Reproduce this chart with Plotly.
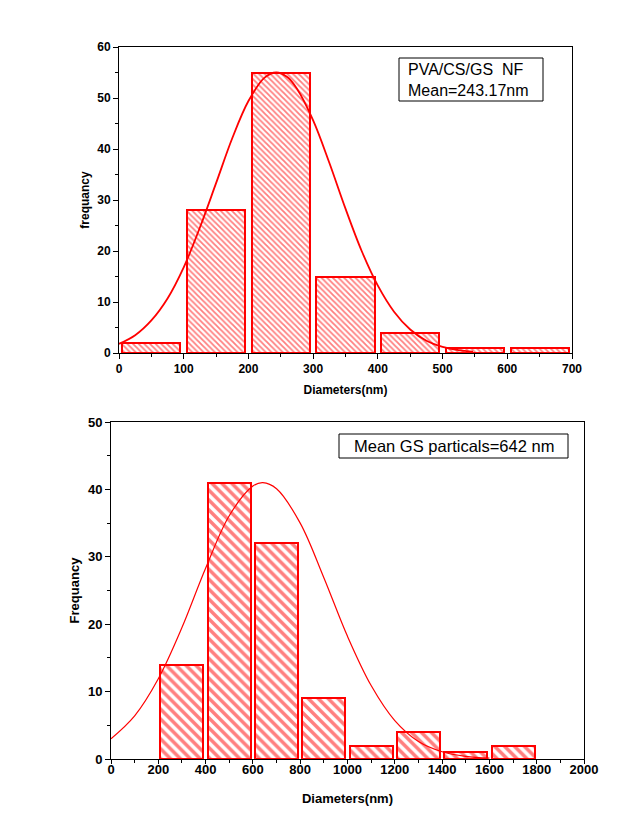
import plotly.graph_objects as go

# ---- data: top histogram (PVA/CS/GS NF) ----
top_bin_centers = [50, 150, 250, 350, 450, 550, 650]
top_counts = [2, 28, 55, 15, 4, 1, 1]
top_curve_x = [0, 25, 50, 75, 100, 125, 150, 175, 200, 225, 243, 260, 275, 300,
               325, 350, 375, 400, 425, 450, 475, 500, 525, 547]
top_curve_y = [1.8, 3.5, 6.4, 10.7, 16.8, 24.6, 33.3, 42.1, 49.4, 54.0, 55.0, 54.1,
               51.8, 45.6, 37.3, 28.3, 20.0, 13.2, 8.1, 4.6, 2.4, 1.2, 0.55, 0.25]

# ---- data: bottom histogram (GS particles) ----
bot_bin_centers = [300, 500, 700, 900, 1100, 1300, 1500, 1700]
bot_counts = [14, 41, 32, 9, 2, 4, 1, 2]
bot_curve_x = [0, 100, 200, 300, 400, 500, 600, 642, 700, 800, 900, 1000, 1100,
               1200, 1300, 1400, 1500, 1600]
bot_curve_y = [3.0, 6.4, 11.9, 19.5, 28.3, 36.1, 40.5, 41.0, 40.1, 35.0, 26.9,
               18.2, 10.9, 5.7, 2.6, 1.08, 0.39, 0.12]

top_xticks = [0, 100, 200, 300, 400, 500, 600, 700]
top_yticks = [0, 10, 20, 30, 40, 50, 60]
bot_xticks = [0, 200, 400, 600, 800, 1000, 1200, 1400, 1600, 1800, 2000]
bot_yticks = [0, 10, 20, 30, 40, 50]

RED = "#ff0000"
FONT = "Arial, Liberation Sans, sans-serif"
W, H = 628, 832
OFF = 8  # page body margin

def px_x(p):
    return (p - OFF) / W

def px_y(p):
    return 1 - (p - OFF) / H

fig = go.Figure()

fig.add_trace(go.Bar(
    x=top_bin_centers, y=top_counts, width=90,
    marker=dict(color="white", line=dict(color=RED, width=2),
                pattern=dict(shape="\\", fgcolor=RED, bgcolor="white", size=4, solidity=0.45)),
    xaxis="x", yaxis="y", showlegend=False))
fig.add_trace(go.Scatter(
    x=top_curve_x, y=top_curve_y, mode="lines", line=dict(color=RED, width=1.8, shape="spline"),
    xaxis="x", yaxis="y", showlegend=False))

fig.add_trace(go.Bar(
    x=bot_bin_centers, y=bot_counts, width=182,
    marker=dict(color="white", line=dict(color=RED, width=2),
                pattern=dict(shape="\\", fgcolor=RED, bgcolor="white", size=7, solidity=0.5)),
    xaxis="x2", yaxis="y2", showlegend=False))
fig.add_trace(go.Scatter(
    x=bot_curve_x, y=bot_curve_y, mode="lines", line=dict(color=RED, width=1.2, shape="spline"),
    xaxis="x2", yaxis="y2", showlegend=False))

tickfont = dict(family=FONT, size=12, color="black", weight="bold")
tickfont2 = dict(family=FONT, size=13, color="black", weight="bold")
titlefont = dict(family=FONT, size=12, color="black", weight="bold")
titlefont2 = dict(family=FONT, size=13, color="black", weight="bold")

common = dict(showline=True, linecolor="black", linewidth=1, mirror=True,
              ticks="outside", tickwidth=1, tickcolor="black",
              showgrid=False, zeroline=False, automargin=False)

fig.update_layout(
    width=W, height=H,
    margin=dict(l=0, r=0, t=0, b=0),
    paper_bgcolor="white", plot_bgcolor="white",
    bargap=0,
    xaxis=dict(domain=[px_x(119), px_x(572)], range=[0, 700], tickvals=top_xticks,
               ticklen=5, tickfont=tickfont,
               minor=dict(ticks="outside", ticklen=3, dtick=50, tick0=0, tickcolor="black"),
               title=dict(text="Diameters(nm)", font=titlefont, standoff=10),
               anchor="y", **common),
    yaxis=dict(domain=[px_y(353), px_y(47)], range=[0, 60], tickvals=top_yticks,
               ticklen=5, tickfont=tickfont,
               minor=dict(ticks="outside", ticklen=3, dtick=5, tick0=0, tickcolor="black"),
               title=dict(text="frequancy", font=titlefont, standoff=5),
               anchor="x", **common),
    xaxis2=dict(domain=[px_x(111), px_x(584)], range=[0, 2000], tickvals=bot_xticks,
                ticklen=4, tickfont=tickfont2, ticklabelstandoff=-6,
                minor=dict(ticks="outside", ticklen=3, dtick=100, tick0=0, tickcolor="black"),
                title=dict(text="Diameters(nm)", font=titlefont2, standoff=18),
                anchor="y2", **common),
    yaxis2=dict(domain=[px_y(759), px_y(422)], range=[0, 50], tickvals=bot_yticks,
                ticklen=5, tickfont=tickfont2,
                minor=dict(ticks="outside", ticklen=3, dtick=5, tick0=0, tickcolor="black"),
                title=dict(text="Frequancy", font=titlefont2, standoff=5),
                anchor="x2", **common),
    shapes=[
        dict(type="rect", xref="paper", yref="paper",
             x0=px_x(399), x1=px_x(543), y0=px_y(101), y1=px_y(58),
             line=dict(color="black", width=1), fillcolor="white"),
        dict(type="rect", xref="paper", yref="paper",
             x0=px_x(339), x1=px_x(568), y0=px_y(458), y1=px_y(434),
             line=dict(color="black", width=1), fillcolor="white"),
    ],
    annotations=[
        dict(xref="paper", yref="paper", x=px_x(406), y=px_y(79.5), xanchor="left", yanchor="middle",
             text="PVA/CS/GS  NF<br>Mean=243.17nm", align="left", showarrow=False,
             font=dict(family=FONT, size=16, color="black")),
        dict(xref="paper", yref="paper", x=px_x(454), y=px_y(446), xanchor="center", yanchor="middle",
             text="Mean GS particals=642 nm", showarrow=False,
             font=dict(family=FONT, size=16.5, color="black")),
    ],
)

fig.write_html("out.html")
